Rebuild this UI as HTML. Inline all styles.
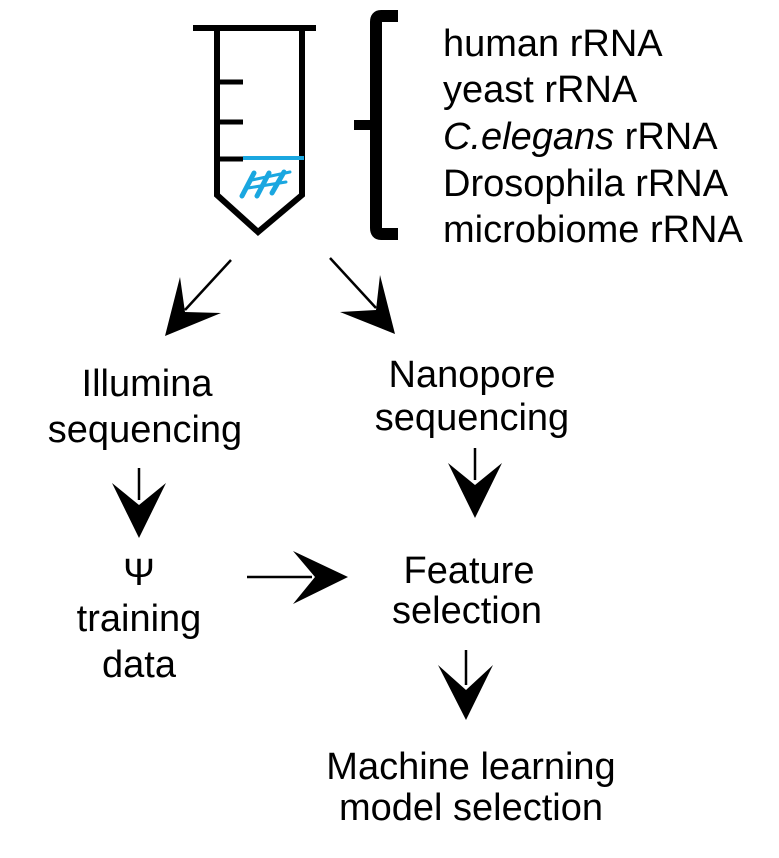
<!DOCTYPE html>
<html><head><meta charset="utf-8"><style>
body{margin:0;background:#fff;}
svg{display:block}
text{font-family:"Liberation Sans",Arial,sans-serif;font-size:38px;fill:#000}
</style></head><body>
<svg width="779" height="858" viewBox="0 0 779 858">
<!-- tube -->
<g stroke="#000" fill="none" stroke-linecap="butt">
<line x1="193" y1="28" x2="316" y2="28" stroke-width="6"/>
<polyline points="217,28 217,195 258,232 302,195 302,28" stroke-width="6" stroke-linejoin="miter"/>
<line x1="217" y1="82" x2="243" y2="82" stroke-width="5"/>
<line x1="217" y1="122" x2="243" y2="122" stroke-width="5"/>
<line x1="217" y1="159" x2="243" y2="159" stroke-width="5"/>
</g>
<line x1="243" y1="158" x2="304" y2="158" stroke="#1aa7e0" stroke-width="4"/>
<g stroke="#1aa7e0" stroke-width="5" fill="none" stroke-linecap="round">
<line x1="242" y1="196" x2="254" y2="173"/>
<line x1="257" y1="196" x2="269" y2="173"/>
<line x1="272" y1="193" x2="284" y2="172"/>
<line x1="252" y1="180" x2="290" y2="172" stroke-width="3"/>
<line x1="248" y1="188" x2="286" y2="182" stroke-width="3"/>
</g>
<!-- bracket -->
<path d="M398 16 L381 16 Q376 16 376 22 L376 228 Q376 234 381 234 L398 234" stroke="#000" stroke-width="12" fill="none"/>
<rect x="354" y="120" width="22" height="10" fill="#000"/>
<!-- list -->
<text x="443" y="56">human rRNA</text>
<text x="443" y="102">yeast rRNA</text>
<text x="443" y="149"><tspan font-style="italic">C.elegans</tspan> rRNA</text>
<text x="443" y="196">Drosophila rRNA</text>
<text x="443" y="242">microbiome rRNA</text>
<!-- arrows -->
<g stroke="#000" stroke-width="2.5">
<line x1="231" y1="260" x2="185" y2="310"/>
<line x1="330" y1="258" x2="376" y2="308"/>
<line x1="139" y1="468" x2="139" y2="500"/>
<line x1="475" y1="448" x2="475" y2="480"/>
<line x1="247" y1="577" x2="312" y2="577"/>
<line x1="466" y1="650" x2="466" y2="685"/>
</g>
<g fill="#000">
<polygon points="165,336 180,277 185,312 221,313"/>
<polygon points="395,334 380,275 376,310 340,312"/>
<polygon points="139,538 112,483 139,505 166,483"/>
<polygon points="475,518 448,463 475,485 502,463"/>
<polygon points="348,577 293,551 315,577 293,604"/>
<polygon points="466,720 438,665 466,690 493,665"/>
</g>
<g text-anchor="middle">
<text x="147" y="396">Illumina</text>
<text x="145" y="442">sequencing</text>
<text x="472" y="387">Nanopore</text>
<text x="472" y="430">sequencing</text>
<text x="139" y="585">Ψ</text>
<text x="139" y="631">training</text>
<text x="139" y="677">data</text>
<text x="469" y="583">Feature</text>
<text x="467" y="623">selection</text>
<text x="471" y="779">Machine learning</text>
<text x="471" y="820">model selection</text>
</g>
</svg>
</body></html>
